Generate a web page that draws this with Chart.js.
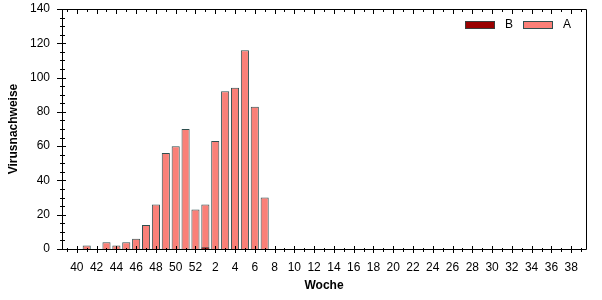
<!DOCTYPE html>
<html>
<head>
<meta charset="utf-8">
<script src="https://cdn.jsdelivr.net/npm/chart.js@4.4.1/dist/chart.umd.min.js"></script>
<style>
  html, body { margin: 0; padding: 0; background: #fff; }
  #wrap { width: 602px; height: 300px; }
</style>
</head>
<body>
<div id="wrap"><canvas id="chart" width="602" height="300"></canvas></div>
<script>
// weeks 39..52 then 1..39
const weeks = [39, 40, 41, 42, 43, 44, 45, 46, 47, 48, 49, 50, 51, 52,
  1, 2, 3, 4, 5, 6, 7, 8, 9, 10, 11, 12, 13, 14, 15, 16, 17, 18, 19, 20,
  21, 22, 23, 24, 25, 26, 27, 28, 29, 30, 31, 32, 33, 34, 35, 36, 37, 38, 39];

const valuesA = [0, 0, 2, 0, 4, 2, 4, 6, 14, 26, 56, 60, 70, 23,
  26, 63, 92, 94, 116, 83, 30, 0, 0, 0, 0, 0, 0, 0, 0, 0, 0, 0, 0, 0,
  0, 0, 0, 0, 0, 0, 0, 0, 0, 0, 0, 0, 0, 0, 0, 0, 0, 0, 0];

const valuesB = [0, 0, 0, 0, 0, 0, 0, 0, 0, 0, 0, 0, 0, 0,
  1, 0, 0, 0, 0, 0, 0, 0, 0, 0, 0, 0, 0, 0, 0, 0, 0, 0, 0, 0,
  0, 0, 0, 0, 0, 0, 0, 0, 0, 0, 0, 0, 0, 0, 0, 0, 0, 0, 0];

const yTicks = [0, 20, 40, 60, 80, 100, 120, 140];

const FONT = 'Arial, "Liberation Sans", sans-serif';

// frame and tick marks like the original plot
const frameTicks = {
  id: 'frameTicks',
  afterDatasetsDraw(chart) {
    const { ctx, chartArea: a } = chart;
    const xs = chart.scales.x, ys = chart.scales.y;
    ctx.save();
    ctx.strokeStyle = '#000';
    ctx.lineWidth = 1;
    ctx.beginPath();
    ctx.moveTo(a.left + 0.5, a.top + 0.5);
    ctx.lineTo(a.right + 0.5, a.top + 0.5);
    ctx.lineTo(a.right + 0.5, a.bottom + 0.5);
    ctx.lineTo(a.left + 0.5, a.bottom + 0.5);
    ctx.closePath();
    weeks.forEach((w, i) => {
      const x = Math.round(xs.getPixelForValue(i)) + 0.5;
      const major = w % 2 === 0;
      ctx.moveTo(x, a.bottom - (major ? 3 : 1));
      ctx.lineTo(x, a.bottom + (major ? 4 : 3));
      ctx.moveTo(x, a.top);
      ctx.lineTo(x, a.top + (major ? 5 : 3));
    });
    for (let v = 0; v <= 140; v += 5) {
      const y = Math.round(ys.getPixelForValue(v)) + 0.5;
      const major = v % 20 === 0;
      ctx.moveTo(a.left - (major ? 5 : 2), y);
      ctx.lineTo(a.left + (major ? 4 : 3), y);
    }
    ctx.stroke();

    // legend inside the plot, top right
    const items = chart.data.datasets.map(d => ({ label: d.label, fill: d.backgroundColor, line: d.borderColor }));
    let x = a.right - 121;
    const y = a.top + 16;
    ctx.font = '12px ' + FONT;
    ctx.textBaseline = 'middle';
    items.forEach(it => {
      ctx.fillStyle = it.fill;
      ctx.fillRect(x, y - 4, 30, 8);
      ctx.strokeStyle = it.line;
      ctx.strokeRect(x + 0.5, y - 3.5, 29, 7);
      ctx.fillStyle = '#000';
      ctx.fillText(it.label, x + 40, y);
      x += 58;
    });
    ctx.restore();
  }
};

new Chart(document.getElementById('chart'), {
  type: 'bar',
  data: {
    labels: weeks,
    datasets: [
      {
        label: 'B',
        data: valuesB,
        backgroundColor: '#990000',
        borderColor: '#3a3a3a',
        borderWidth: 1,
        grouped: false,
        categoryPercentage: 1,
        barPercentage: 0.82
      },
      {
        label: 'A',
        data: valuesA,
        backgroundColor: '#fa8078',
        borderColor: '#2f4f4f',
        borderWidth: 1,
        grouped: false,
        categoryPercentage: 1,
        barPercentage: 0.82
      }
    ]
  },
  options: {
    responsive: false,
    animation: false,
    layout: { padding: { top: 9, right: 16, left: 0, bottom: 0 } },
    plugins: {
      legend: { display: false },
      tooltip: { enabled: false }
    },
    scales: {
      x: {
        offset: true,
        grid: { display: false, drawTicks: false },
        border: { display: false },
        ticks: {
          autoSkip: false,
          maxRotation: 0,
          padding: 11,
          color: '#000',
          font: { family: FONT, size: 12 },
          callback: (v, i) => (weeks[i] % 2 === 0 ? String(weeks[i]) : '')
        },
        title: {
          display: true,
          text: 'Woche',
          color: '#000',
          font: { family: FONT, size: 12, weight: 'bold' },
          padding: { top: 7, bottom: 7 }
        },
        afterFit: s => { s.height = 51; s.paddingLeft = 0; s.paddingRight = 0; }
      },
      y: {
        min: 0,
        max: 140,
        grid: { display: false, drawTicks: false },
        border: { display: false },
        afterBuildTicks: s => { s.ticks = yTicks.map(v => ({ value: v })); },
        ticks: {
          padding: 12,
          color: '#000',
          font: { family: FONT, size: 12 }
        },
        title: {
          display: true,
          text: 'Virusnachweise',
          color: '#000',
          font: { family: FONT, size: 12, weight: 'bold' },
          padding: { top: 6, bottom: 0 }
        },
        afterFit: s => { s.width = 62; s.paddingTop = 0; s.paddingBottom = 0; }
      }
    }
  },
  plugins: [frameTicks]
});
</script>
</body>
</html>
